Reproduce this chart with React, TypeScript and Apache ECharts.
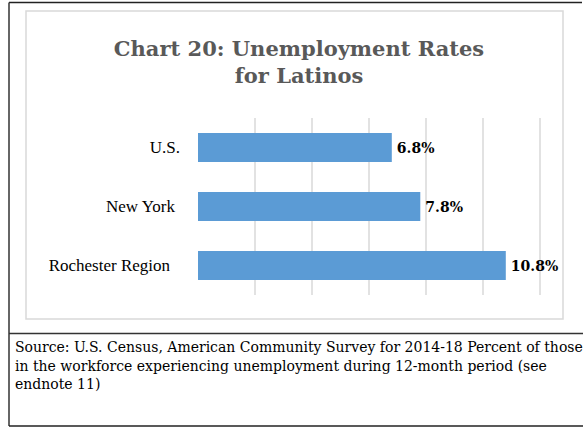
import React, { useEffect, useRef } from "react";
import * as echarts from "echarts";

const categories = ["U.S.", "New York", "Rochester Region"];
const rates = [6.8, 7.8, 10.8];
const titleLines = ["Chart 20: Unemployment Rates", "for Latinos"];
const sourceLines = [
  "Source: U.S. Census, American Community Survey for 2014-18 Percent of those",
  "in the workforce experiencing unemployment during 12-month period (see",
  "endnote 11)",
];

export default function App() {
  const ref = useRef<HTMLDivElement>(null);
  useEffect(() => {
    if (!ref.current) return;
    const chart = echarts.init(ref.current, null, { renderer: "svg" });
    const serif = "'DejaVu Serif', serif";
    const labelPad = [0, 5, 10];
    chart.setOption({
      animation: false,
      backgroundColor: "#ffffff",
      title: {
        text: titleLines.join("\n"),
        left: 294,
        top: 30,
        textAlign: "center",
        textStyle: {
          fontFamily: serif,
          fontSize: 21,
          fontWeight: "bold",
          color: "#595959",
          lineHeight: 27,
        },
      },
      grid: { left: 198, right: 43, top: 118, bottom: 133, containLabel: false },
      xAxis: {
        type: "value",
        min: 0,
        max: 12,
        interval: 2,
        axisLabel: { show: false },
        axisLine: { show: false },
        axisTick: { show: false },
        splitLine: {
          show: true,
          lineStyle: {
            color: [
              "rgba(0,0,0,0)",
              "#d9d9d9",
              "#d9d9d9",
              "#d9d9d9",
              "#d9d9d9",
              "#d9d9d9",
              "#d9d9d9",
            ],
            width: 1.5,
          },
        },
      },
      yAxis: {
        type: "category",
        data: categories,
        inverse: true,
        axisLine: { show: false },
        axisTick: { show: false },
        axisLabel: {
          margin: 18,
          formatter: (v: string) => {
            const i = categories.indexOf(v);
            return `{r${i}|${v}}`;
          },
          rich: Object.fromEntries(
            categories.map((_, i) => [
              `r${i}`,
              {
                fontFamily: "'Liberation Serif', serif",
                fontSize: 17,
                color: "#000000",
                padding: [0, labelPad[i], 0, 0],
              },
            ])
          ),
        },
      },
      series: [
        {
          type: "bar",
          data: rates,
          barWidth: 29,
          itemStyle: { color: "#5b9bd5" },
          label: {
            show: true,
            position: "right",
            distance: 5,
            formatter: "{c}%",
            fontFamily: serif,
            fontWeight: "bold",
            fontSize: 14,
            color: "#000000",
          },
        },
      ],
      graphic: [
        {
          type: "rect",
          shape: { x: 26, y: 11, width: 537, height: 308 },
          style: { fill: "none", stroke: "#d9d9d9", lineWidth: 1.5 },
          silent: true,
        },
        {
          type: "line",
          shape: { x1: 9, y1: 2.5, x2: 582, y2: 2.5 },
          style: { stroke: "#222222", lineWidth: 1.5 },
        },
        {
          type: "line",
          shape: { x1: 9, y1: 2.5, x2: 9, y2: 426 },
          style: { stroke: "#333333", lineWidth: 1.5 },
        },
        {
          type: "line",
          shape: { x1: 9, y1: 333.5, x2: 583, y2: 333.5 },
          style: { stroke: "#333333", lineWidth: 1.5 },
        },
        {
          type: "line",
          shape: { x1: 9, y1: 426, x2: 583, y2: 426 },
          style: { stroke: "#222222", lineWidth: 1.5 },
        },
        ...sourceLines.map((t, i) => ({
          type: "text",
          x: 15,
          y: 347 + i * 18.5,
          style: {
            text: t,
            fontFamily: serif,
            fontSize: 14,
            fill: "#000000",
            textAlign: "left",
            textVerticalAlign: "middle",
          },
        })),
      ],
    });
    return () => chart.dispose();
  }, []);
  return (
    <div
      ref={ref}
      style={{ position: "fixed", left: 0, top: 0, width: 583, height: 428 }}
    />
  );
}
